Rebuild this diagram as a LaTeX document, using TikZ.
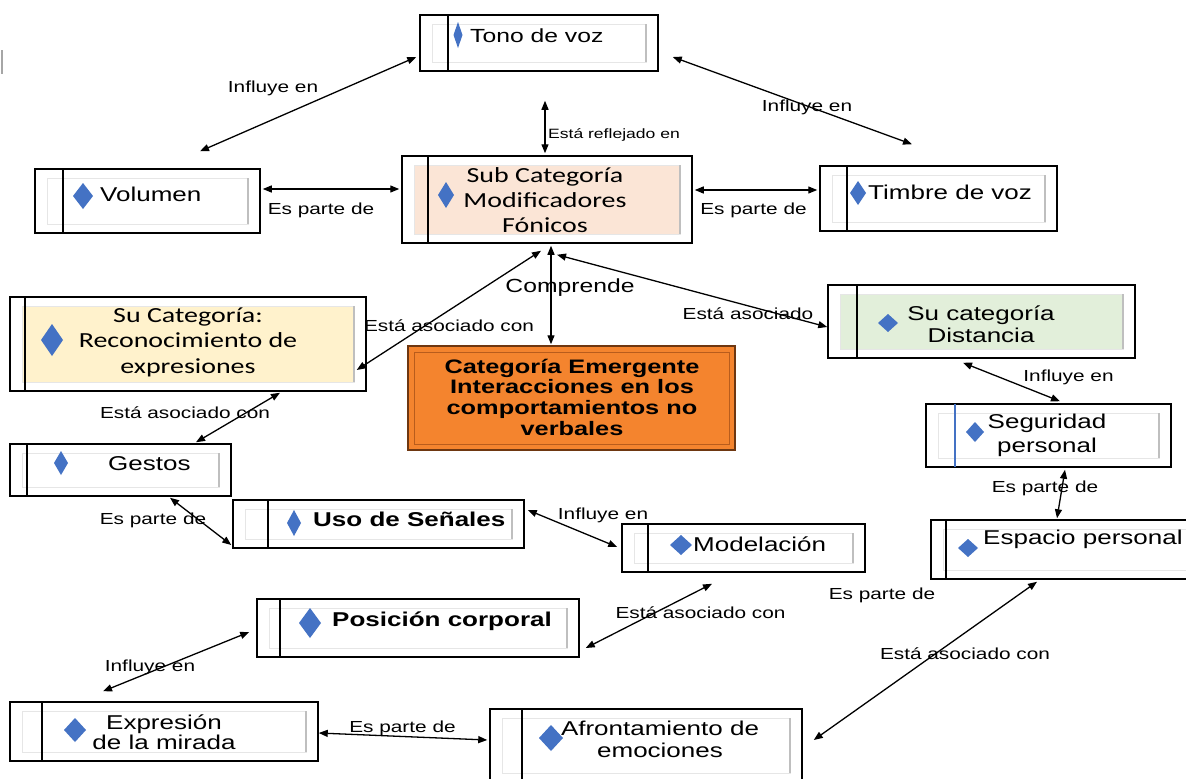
\documentclass[tikz,border=0pt]{standalone}
\usepackage{fontspec}
\usetikzlibrary{arrows.meta,fit,calc}
\newfontfamily\ar[FakeStretch=1.3]{Liberation Sans}
\newfontfamily\cb[FakeStretch=1.3]{Carlito}
\definecolor{peach}{HTML}{FBE5D6}
\definecolor{cream}{HTML}{FFF2CC}
\definecolor{mint}{HTML}{E2EFDA}
\definecolor{dblue}{HTML}{4472C4}
\definecolor{orng}{HTML}{F4842E}
\definecolor{orngd}{HTML}{B85C1C}
\definecolor{innergray}{HTML}{E6E6E6}
\definecolor{bargray}{HTML}{BFBFBF}
\tikzset{
  boxo/.style={draw=black, line width=1.5pt, fill=white, inner sep=0pt},
  conn/.style={{Triangle[length=9pt,width=7pt]}-{Triangle[length=9pt,width=7pt]}, line width=1.3pt},
  lab/.style={font=\ar\fontsize{16}{18}\selectfont, inner sep=0pt},
  btxt/.style={font=\ar\fontsize{20}{23}\selectfont, inner sep=0pt, align=center},
  bbold/.style={font=\ar\bfseries\fontsize{20}{23}\selectfont, inner sep=0pt, align=center},
  ctxt/.style={font=\cb\fontsize{21.5}{25}\selectfont, inner sep=0pt, align=center},
  dia/.style={fill=dblue}
}
\newcommand\cbox[8]{%
  \node[boxo, fit={(#2,#3) (#4,#5)}] (#1) {};
  \draw[innergray, line width=1pt, fill=#7] ({#2+12},{#3+9}) rectangle ({#4-12},{#5-9});
  \draw[bargray, line width=2pt] ({#4-12},{#3+9}) -- ({#4-12},{#5-9});
  \draw[#8, line width=1.2pt] (#6,#3) -- (#6,#5);
}
\newcommand\dmd[4]{\fill[dia] (#1,{#2-#4/2}) -- ({#1+#3/2},#2) -- (#1,{#2+#4/2}) -- ({#1-#3/2},#2) -- cycle;}
\begin{document}
\begin{tikzpicture}[x=1pt,y=-1pt]
\useasboundingbox (0,0) rectangle (1186,779);
\clip (0,0) rectangle (1186,779);
\fill[white] (0,0) rectangle (1186,779);
\draw[gray!70, line width=2pt] (1.5,50) -- (1.5,74);

% boxes
\cbox{tono}{420}{15}{658}{71}{448}{white}{black}
\cbox{vol}{35}{169}{260}{233}{63}{white}{black}
\cbox{sub}{402}{156}{692}{243}{428}{peach}{black}
\cbox{tim}{820}{166}{1057}{231}{847}{white}{black}
\cbox{rec}{10}{297}{366}{391}{25}{cream}{black}
\cbox{dist}{828}{285}{1135}{358}{857}{mint}{black}
\cbox{seg}{926}{404}{1171}{467}{955}{white}{dblue}
\cbox{esp}{931}{520}{1200}{579}{946}{white}{black}
\cbox{ges}{10}{444}{231}{496}{27}{white}{black}
\cbox{uso}{233}{500}{524}{548}{268}{white}{black}
\cbox{mod}{622}{524}{865}{572}{648}{white}{black}
\cbox{pos}{257}{599}{579}{657}{280}{white}{black}
\cbox{exp}{10}{702}{318}{761}{42}{white}{black}
\cbox{afr}{490}{709}{802}{782}{522}{white}{black}

\node[fit={(408,346) (735,450)}, inner sep=0pt, draw=orngd!60!black, line width=1.5pt, fill=orng] (emer) {};
\draw[orngd, line width=1pt] (414,352) rectangle (729,444);

% diamonds
\dmd{458}{35}{9}{26}
\dmd{83}{196}{20}{26}
\dmd{446}{195}{16}{26}
\dmd{858}{193}{16}{24}
\dmd{52}{340}{22}{32}
\dmd{888}{323}{20}{18}
\dmd{975}{432}{18}{20}
\dmd{968}{548}{20}{18}
\dmd{61}{463}{14}{24}
\dmd{294}{523}{14}{26}
\dmd{681}{545}{22}{20}
\dmd{310}{623}{22}{30}
\dmd{75}{730}{22}{24}
\dmd{551}{738}{24}{26}

% box texts
\node[btxt, anchor=west, font=\ar\fontsize{19}{22}\selectfont] (tonoT) at (470,36) {Tono de voz};
\node[btxt, anchor=west] (volT) at (100,194) {Volumen};
\node[ctxt] (subT) at (545,200) {Sub Categoría\\Modificadores\\Fónicos};
\node[btxt, anchor=west] (timT) at (868,192) {Timbre de voz};
\node[ctxt, font=\cb\fontsize{21.5}{25.5}\selectfont] (recT) at (188,342) {Su Categoría:\\Reconocimiento de\\expresiones};
\node[btxt, font=\ar\fontsize{20}{22}\selectfont] (distT) at (981,324) {Su categoría\\Distancia};
\node[btxt, font=\ar\fontsize{20}{24}\selectfont] (segT) at (1047,435) {Seguridad\\personal};
\node[btxt, anchor=west] (espT) at (983,539) {Espacio personal};
\node[btxt, anchor=west] (gesT) at (108,464) {Gestos};
\node[bbold, anchor=west] (usoT) at (313,519) {Uso de Señales};
\node[btxt, anchor=west] (modT) at (693,544) {Modelación};
\node[bbold, anchor=west] (posT) at (332,621) {Posición corporal};
\node[btxt, font=\ar\fontsize{20}{20.5}\selectfont] (expT) at (164,732) {Expresión\\de la mirada};
\node[btxt, font=\ar\fontsize{20}{22}\selectfont] (afrT) at (660,739) {Afrontamiento de\\emociones};
\node[bbold, font=\ar\bfseries\fontsize{19.5}{20.7}\selectfont] (emerT) at (572,397) {Categoría Emergente\\Interacciones en los\\comportamientos no\\verbales};

% connectors
\draw[conn] ([shift={(-3,14)}]tono.west) -- ([shift={(52.5,-17)}]vol.north);
\draw[conn] ([shift={(14,14)}]tono.east) -- ([shift={(-26.5,-21)}]tim.north);
\draw[conn] ([shift={(6,29)}]tono.south) -- ([shift={(-2,-2)}]sub.north);
\draw[conn] ([shift={(2,-12)}]vol.east) -- ([shift={(-2,-10.5)}]sub.west);
\draw[conn] ([shift={(2,-9.5)}]sub.east) -- ([shift={(-2,-8.5)}]tim.west);
\draw[conn] ([shift={(4,2)}]sub.south) -- ([shift={(-20.5,-1)}]emer.north);
\draw[conn] ([shift={(-6,7)}]sub.south) -- ([shift={(-10,26)}]rec.east);
\draw[conn] ([shift={(10,11)}]sub.south) -- ([shift={(0,5.5)}]dist.west);
\draw[conn] ([shift={(92,1)}]rec.south) -- ([shift={(75.5,-1)}]ges.north);
\draw[conn] ([shift={(49.5,1)}]ges.south) -- ([shift={(-1,21)}]uso.west);
\draw[conn] ([shift={(3,-14)}]uso.east) -- ([shift={(-4,-1)}]mod.west);
\draw[conn] ([shift={(-31.5,11)}]mod.south) -- ([shift={(6,20)}]pos.east);
\draw[conn] ([shift={(-7,4)}]pos.west) -- ([shift={(-61,-10)}]exp.north);
\draw[conn] ([shift={(0,1.5)}]exp.east) -- ([shift={(-2,-5.5)}]afr.west);
\draw[conn] ([shift={(-28.5,2)}]esp.south) -- ([shift={(11,-5.5)}]afr.east);
\draw[conn] ([shift={(-18.5,4)}]dist.south) -- ([shift={(11.5,-2)}]seg.north);
\draw[conn] ([shift={(16.5,2)}]seg.south) -- ([shift={(-8.5,-1)}]esp.north);

% connector labels
\node[lab] (l1) at (273,88) {Influye en};
\node[lab] (l2) at (807,107) {Influye en};
\node[lab, font=\ar\fontsize{13.5}{15}\selectfont] (l3) at (614,135) {Está reflejado en};
\node[lab] (l4) at (321,210) {Es parte de};
\node[lab] (l5) at (753.5,210) {Es parte de};
\node[lab, font=\ar\fontsize{19}{21}\selectfont] (l6) at (570,288) {Comprende};
\node[lab] (l7) at (449,326) {Está asociado con};
\node[lab] (l8) at (748,314) {Está asociado};
\node[lab] (l9) at (185,413) {Está asociado con};
\node[lab] (l10) at (153,520) {Es parte de};
\node[lab] (l11) at (603,515) {Influye en};
\node[lab] (l12) at (700.5,613) {Está asociado con};
\node[lab] (l13) at (150,667) {Influye en};
\node[lab] (l14) at (402.5,728) {Es parte de};
\node[lab] (l15) at (965,654) {Está asociado con};
\node[lab] (l16) at (882,595) {Es parte de};
\node[lab] (l17) at (1068.5,377) {Influye en};
\node[lab] (l18) at (1045,488) {Es parte de};
\end{tikzpicture}
\end{document}
